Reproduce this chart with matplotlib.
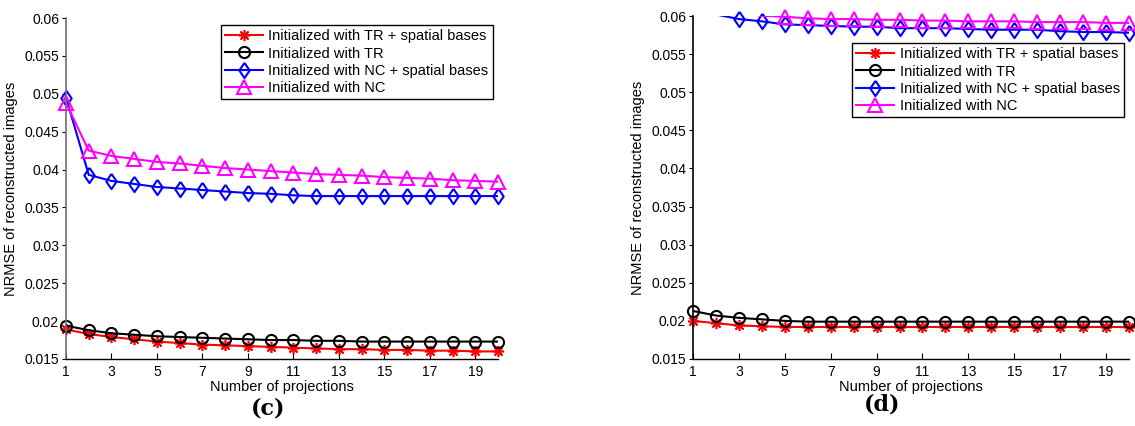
import numpy as np
import matplotlib
matplotlib.use("Agg")
import matplotlib.pyplot as plt
import matplotlib.transforms as mtransforms
from matplotlib.ticker import FuncFormatter
from matplotlib.lines import Line2D

plt.rcParams['font.family'] = ['Liberation Sans', 'DejaVu Sans']

projections = list(range(1, 21))
labels = ["Initialized with TR + spatial bases", "Initialized with TR",
          "Initialized with NC + spatial bases", "Initialized with NC"]

c_tr_sb = [0.0189, 0.0183, 0.0179, 0.0176, 0.0173, 0.0171, 0.0169, 0.0168, 0.0167, 0.0166,
           0.0165, 0.0164, 0.0163, 0.0163, 0.0162, 0.0162, 0.0161, 0.0161, 0.0160, 0.0160]
c_tr = [0.0194, 0.0188, 0.0184, 0.0182, 0.0180, 0.0179, 0.0178, 0.0177, 0.0176, 0.0175,
        0.0175, 0.0174, 0.0174, 0.0173, 0.0173, 0.0173, 0.0173, 0.0173, 0.0173, 0.0173]
c_nc_sb = [0.0495, 0.0393, 0.0385, 0.0381, 0.0377, 0.0375, 0.0373, 0.0371, 0.0369, 0.0368,
           0.0366, 0.0365, 0.0365, 0.0365, 0.0365, 0.0365, 0.0365, 0.0365, 0.0365, 0.0365]
c_nc = [0.0488, 0.0425, 0.0418, 0.0414, 0.0410, 0.0408, 0.0405, 0.0402, 0.0400, 0.0398,
        0.0396, 0.0394, 0.0393, 0.0392, 0.0390, 0.0389, 0.0388, 0.0386, 0.0385, 0.0384]

d_tr_sb = [0.0200, 0.0197, 0.0194, 0.0193, 0.0192, 0.0192, 0.0192, 0.0192, 0.0192, 0.0192,
           0.0192, 0.0192, 0.0192, 0.0192, 0.0192, 0.0192, 0.0192, 0.0192, 0.0192, 0.0192]
d_tr = [0.0213, 0.0207, 0.0204, 0.0202, 0.0200, 0.0199, 0.0199, 0.0199, 0.0199, 0.0199,
        0.0199, 0.0199, 0.0199, 0.0199, 0.0199, 0.0199, 0.0199, 0.0199, 0.0199, 0.0199]
d_nc_sb = [0.0620, 0.0602, 0.0596, 0.0593, 0.0589, 0.0588, 0.0587, 0.0586, 0.0586, 0.0584,
           0.0584, 0.0584, 0.0583, 0.0582, 0.0582, 0.0582, 0.0580, 0.0579, 0.0579, 0.0578]
d_nc = [0.0625, 0.0612, 0.0605, 0.06003, 0.0599, 0.0597, 0.0596, 0.0596, 0.0595, 0.0595,
        0.0594, 0.0594, 0.0593, 0.0593, 0.0593, 0.0592, 0.0592, 0.0592, 0.0591, 0.0591]

yticks = [0.015, 0.02, 0.025, 0.03, 0.035, 0.04, 0.045, 0.05, 0.055, 0.06]
xticks = [1, 3, 5, 7, 9, 11, 13, 15, 17, 19]
ymin, ymax = 0.015, 0.06

diamond = [(0, 1), (0.68, 0), (0, -1), (-0.68, 0), (0, 1)]
styles = [dict(color='#ff0000', marker=(8, 2, 0), ms=8, mew=1.2),
          dict(color='#000000', marker='o', ms=8, mew=1.5, mfc='none'),
          dict(color='#0000ff', marker=diamond, ms=11, mew=1.5, mfc='none'),
          dict(color='#ff00ff', marker='^', ms=9.5, mew=1.5, mfc='none')]

W, H = 1135, 426
fig = plt.figure(figsize=(W / 100, H / 100), dpi=100)


def draw(rect, series, leg_anchor, panel, panel_xy, ylab_x, left_spine_color):
    ax = fig.add_axes(rect)
    handles = []
    for vals, st, lab in zip(series, styles, labels):
        arr = np.array(vals)
        x = np.array(projections)
        ax.plot(x, arr, linestyle='-', lw=1.5, color=st['color'], clip_on=True)
        inside = arr <= ymax + 1e-9
        ax.plot(x[inside], arr[inside], linestyle='none', clip_on=False, **st)
        handles.append(Line2D([], [], linestyle='-', lw=1.5, label=lab, **st))
    ax.set_xlim(1, 20)
    ax.set_ylim(ymin, ymax)
    ax.set_xticks(xticks)
    ax.set_yticks(yticks)
    ax.yaxis.set_major_formatter(FuncFormatter(lambda v, p: ('%g' % round(v, 4))))
    for s in ['top', 'right']:
        ax.spines[s].set_visible(False)
    ax.spines['left'].set_color(left_spine_color)
    ax.spines['left'].set_linewidth(1.2)
    ax.spines['bottom'].set_linewidth(1.0)
    ax.tick_params(axis='y', direction='out', length=3, labelsize=10, pad=2)
    ax.tick_params(axis='x', direction='in', length=4, labelsize=10, pad=4)
    ax.set_xlabel('Number of projections', fontsize=10.5, labelpad=1)
    ax.set_ylabel('NRMSE of reconstructed images', fontsize=10.5)
    ax.yaxis.set_label_coords(ylab_x / W, 0.5, transform=mtransforms.blended_transform_factory(
        fig.transFigure, ax.transAxes))
    leg = ax.legend(handles=handles, loc='upper right', bbox_to_anchor=leg_anchor,
                    bbox_transform=fig.transFigure, fontsize=10.5,
                    frameon=True, fancybox=False, framealpha=1,
                    edgecolor='black', handlelength=2.6, handletextpad=0.35,
                    labelspacing=0.22, borderpad=0.3, borderaxespad=0)
    leg.get_frame().set_linewidth(1.0)
    fig.text(panel_xy[0] / W, 1 - panel_xy[1] / H, panel, ha='center', va='center',
             fontsize=16, fontweight='bold', family=['DejaVu Serif'])
    return ax


ax1 = draw([66 / W, 1 - 359 / H, (498 - 66) / W, (359 - 18) / H],
           [c_tr_sb, c_tr, c_nc_sb, c_nc], (493 / W, 1 - 25 / H),
           '(c)', (268, 408), 18, '#707070')
ax2 = draw([693 / W, 1 - 359 / H, (1129 - 693) / W, (359 - 16) / H],
           [d_tr_sb, d_tr, d_nc_sb, d_nc], (1124 / W, 1 - 43 / H),
           '(d)', (882, 405), 645, 'black')

fig.savefig('out.png', dpi=100)
